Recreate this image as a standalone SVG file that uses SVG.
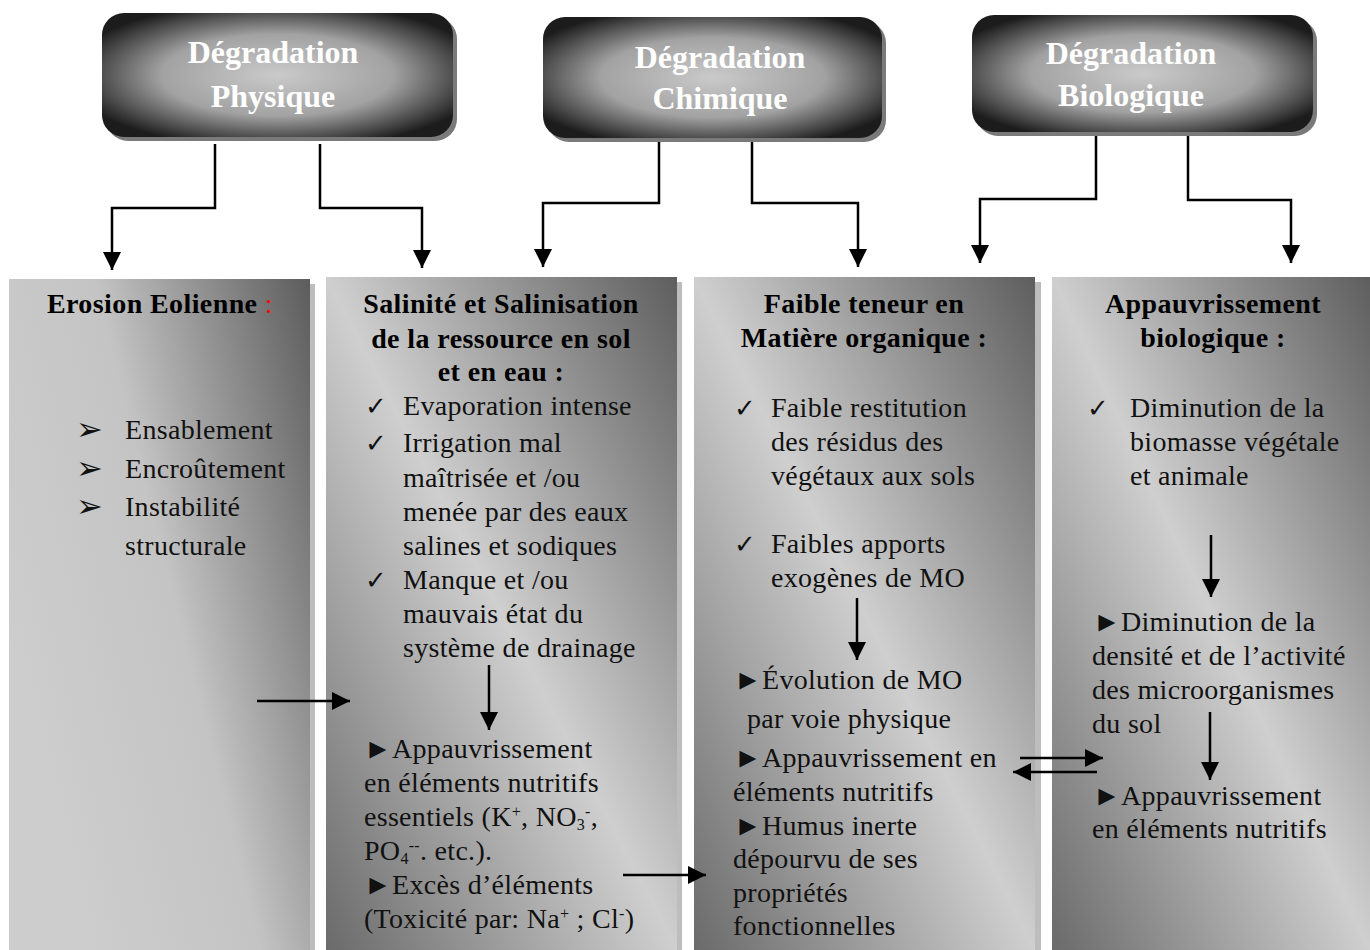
<svg xmlns="http://www.w3.org/2000/svg" width="1370" height="950" viewBox="0 0 1370 950">
<defs>
<style>
.hd{font-family:"Liberation Serif","Times New Roman",serif;font-weight:bold;font-size:32px;fill:#fff;text-anchor:middle}
.bt{font-family:"Liberation Serif","Times New Roman",serif;font-weight:bold;font-size:28px;letter-spacing:0.4px;fill:#000;text-anchor:middle}
.tx{font-family:"Liberation Serif","Times New Roman",serif;font-size:28px;letter-spacing:0.3px;fill:#111}
.sym{font-family:"DejaVu Sans",sans-serif;font-size:26px;letter-spacing:0}
.arr{font-family:"DejaVu Sans",sans-serif;font-size:32px;letter-spacing:0}
.sup{font-size:16px}
.ln{fill:none;stroke:#000;stroke-width:2.5}
.shadow{fill:#bdbdbd}
.hshadow{fill:#7a7a7a}
</style>
<radialGradient id="gHead" cx="0.5" cy="0.5" r="0.6">
<stop offset="0" stop-color="#cacaca"/>
<stop offset="0.55" stop-color="#a2a2a2"/>
<stop offset="0.85" stop-color="#4a4a4a"/>
<stop offset="1" stop-color="#1c1c1c"/>
</radialGradient>
<linearGradient id="gCol1" x1="0" y1="0.55" x2="1" y2="0">
<stop offset="0" stop-color="#cdcdcd"/>
<stop offset="0.45" stop-color="#c4c4c4"/>
<stop offset="1" stop-color="#5c5c5c"/>
</linearGradient>
<linearGradient id="gCol" x1="0" y1="1" x2="1" y2="0">
<stop offset="0" stop-color="#6a6a6a"/>
<stop offset="0.5" stop-color="#cfcfcf"/>
<stop offset="1" stop-color="#5e5e5e"/>
</linearGradient>
<marker id="ah" markerUnits="userSpaceOnUse" markerWidth="18" markerHeight="18" viewBox="0 0 16 16" refX="16" refY="8" orient="auto">
<path d="M0,0 L16,8 L0,16 z" fill="#000"/>
</marker>
</defs>
<rect width="1370" height="950" fill="#fff"/>

<g id="head-physique">
<rect class="hshadow" x="106" y="17" width="351" height="124" rx="22"/>
<rect x="102" y="13" width="351" height="124" rx="22" fill="url(#gHead)"/>
<text class="hd" x="273" y="63">Dégradation</text>
<text class="hd" x="273" y="107">Physique</text>
</g>
<g id="head-chimique">
<rect class="hshadow" x="547" y="21" width="339" height="121" rx="22"/>
<rect x="543" y="17" width="339" height="121" rx="22" fill="url(#gHead)"/>
<text class="hd" x="720" y="68">Dégradation</text>
<text class="hd" x="720" y="109">Chimique</text>
</g>
<g id="head-biologique">
<rect class="hshadow" x="976" y="19" width="341" height="117" rx="22"/>
<rect x="972" y="15" width="341" height="117" rx="22" fill="url(#gHead)"/>
<text class="hd" x="1131" y="64">Dégradation</text>
<text class="hd" x="1131" y="106">Biologique</text>
</g>

<g id="col-erosion">
<rect class="shadow" x="14" y="284" width="301" height="670"/>
<rect x="9" y="279" width="301" height="671" fill="url(#gCol1)"/>
<text class="bt" x="160" y="313">Erosion Eolienne<tspan fill="#ff0000" font-weight="normal"> :</tspan></text>
<text class="tx" x="76" y="440"><tspan class="arr">➢</tspan><tspan x="125" y="439">Ensablement</tspan></text>
<text class="tx" x="76" y="479"><tspan class="arr">➢</tspan><tspan x="125" y="478">Encroûtement</tspan></text>
<text class="tx" x="76" y="517"><tspan class="arr">➢</tspan><tspan x="125" y="516">Instabilité</tspan></text>
<text class="tx" x="125" y="555">structurale</text>
</g>

<g id="col-salinite">
<rect class="shadow" x="331" y="282" width="351" height="670"/>
<rect x="326" y="277" width="351" height="673" fill="url(#gCol)"/>
<text class="bt" x="501" y="313">Salinité et Salinisation</text>
<text class="bt" x="501" y="348">de la ressource en sol</text>
<text class="bt" x="501" y="381">et en eau :</text>
<text class="tx" x="365" y="415"><tspan class="sym">✓</tspan><tspan x="403">Evaporation intense</tspan></text>
<text class="tx" x="365" y="452"><tspan class="sym">✓</tspan><tspan x="403">Irrigation mal</tspan></text>
<text class="tx" x="403" y="487">maîtrisée  et /ou</text>
<text class="tx" x="403" y="521">menée par des eaux</text>
<text class="tx" x="403" y="555">salines et sodiques</text>
<text class="tx" x="365" y="589"><tspan class="sym">✓</tspan><tspan x="403">Manque et /ou</tspan></text>
<text class="tx" x="403" y="623">mauvais état du</text>
<text class="tx" x="403" y="657">système de drainage</text>
<text class="tx" x="364" y="758">►Appauvrissement</text>
<text class="tx" x="364" y="792">en éléments nutritifs</text>
<text class="tx" x="364" y="826">essentiels (K<tspan class="sup" baseline-shift="9">+</tspan>, NO<tspan class="sup" baseline-shift="-4">3</tspan><tspan class="sup" baseline-shift="9">-</tspan>,</text>
<text class="tx" x="364" y="860">PO<tspan class="sup" baseline-shift="-4">4</tspan><tspan class="sup" baseline-shift="9">--</tspan>. etc.).</text>
<text class="tx" x="364" y="894">►Excès d’éléments</text>
<text class="tx" x="364" y="928">(Toxicité par: Na<tspan class="sup" baseline-shift="9">+</tspan> ; Cl<tspan class="sup" baseline-shift="9">-</tspan>)</text>
</g>

<g id="col-matiere">
<rect class="shadow" x="699" y="282" width="342" height="670"/>
<rect x="694" y="277" width="341" height="673" fill="url(#gCol)"/>
<text class="bt" x="864" y="313">Faible teneur en</text>
<text class="bt" x="864" y="347">Matière organique :</text>
<text class="tx" x="734" y="417"><tspan class="sym">✓</tspan><tspan x="771">Faible restitution</tspan></text>
<text class="tx" x="771" y="451">des résidus des</text>
<text class="tx" x="771" y="485">végétaux aux sols</text>
<text class="tx" x="734" y="553"><tspan class="sym">✓</tspan><tspan x="771">Faibles apports</tspan></text>
<text class="tx" x="771" y="587">exogènes de MO</text>
<text class="tx" fill="#1e1a16" x="734" y="689">►Évolution de MO</text>
<text class="tx" fill="#1e1a16" x="747" y="728">par voie physique</text>
<text class="tx" fill="#1e1a16" x="734" y="767">►Appauvrissement en</text>
<text class="tx" fill="#1e1a16" x="733" y="801">éléments nutritifs</text>
<text class="tx" fill="#1e1a16" x="734" y="835">►Humus inerte</text>
<text class="tx" fill="#1e1a16" x="733" y="868">dépourvu de ses</text>
<text class="tx" fill="#1e1a16" x="733" y="902">propriétés</text>
<text class="tx" fill="#1e1a16" x="733" y="935">fonctionnelles</text>
</g>

<g id="col-biologique">
<rect x="1052" y="277" width="318" height="673" fill="url(#gCol)"/>
<text class="bt" x="1213" y="313">Appauvrissement</text>
<text class="bt" x="1213" y="347">biologique :</text>
<text class="tx" x="1087" y="417"><tspan class="sym">✓</tspan><tspan x="1130">Diminution de la</tspan></text>
<text class="tx" x="1130" y="451">biomasse végétale</text>
<text class="tx" x="1130" y="485">et animale</text>
<text class="tx" x="1093" y="631">►Diminution de la</text>
<text class="tx" x="1092" y="665">densité et de l’activité</text>
<text class="tx" x="1092" y="699">des microorganismes</text>
<text class="tx" x="1092" y="733">du sol</text>
<text class="tx" x="1093" y="805">►Appauvrissement</text>
<text class="tx" x="1092" y="838">en éléments nutritifs</text>
</g>

<g id="connectors">
<path class="ln" d="M215,144 V208 H112 V270" marker-end="url(#ah)"/>
<path class="ln" d="M320,144 V208 H422 V268" marker-end="url(#ah)"/>
<path class="ln" d="M659,142 V203 H543 V267" marker-end="url(#ah)"/>
<path class="ln" d="M752,142 V203 H858 V267" marker-end="url(#ah)"/>
<path class="ln" d="M1096,136 V199 H980 V263" marker-end="url(#ah)"/>
<path class="ln" d="M1188,136 V200 H1291 V263" marker-end="url(#ah)"/>
<path class="ln" d="M257,701 H350" marker-end="url(#ah)"/>
<path class="ln" d="M489,665 V730" marker-end="url(#ah)"/>
<path class="ln" d="M623,875 H706" marker-end="url(#ah)"/>
<path class="ln" d="M857,598 V660" marker-end="url(#ah)"/>
<path class="ln" d="M1020,758 H1103" marker-end="url(#ah)"/>
<path class="ln" d="M1097,772 H1013" marker-end="url(#ah)"/>
<path class="ln" d="M1211,535 V597" marker-end="url(#ah)"/>
<path class="ln" d="M1210,712 V780" marker-end="url(#ah)"/>
</g>
</svg>
